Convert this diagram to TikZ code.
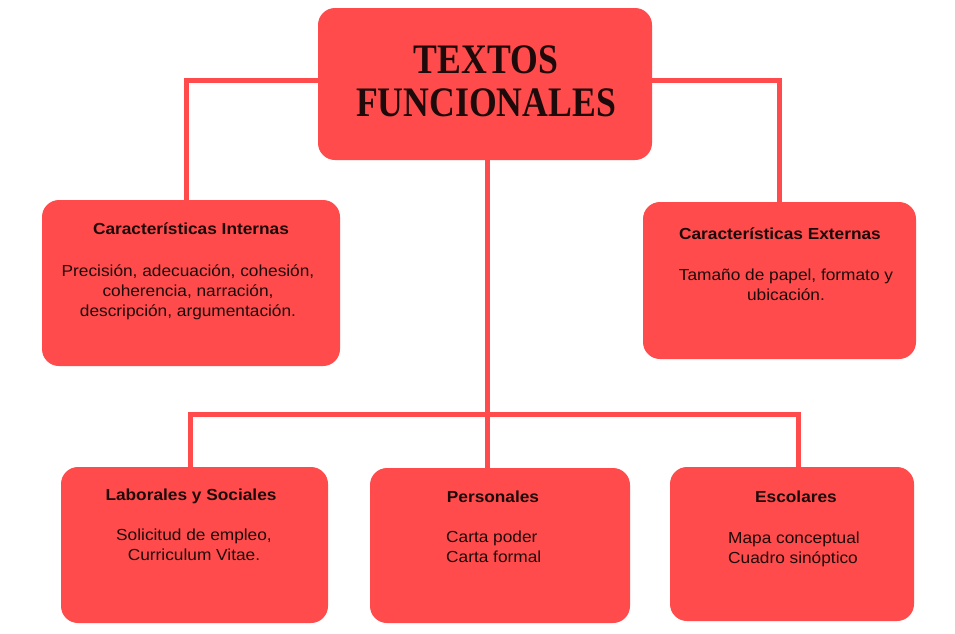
\documentclass[tikz,border=0pt]{standalone}
\usepackage{fontspec}
\setmainfont{Liberation Sans}[FakeStretch=1.08]
\newfontfamily\titlefont{Liberation Serif}[FakeStretch=0.85]
\definecolor{boxred}{RGB}{255,75,75}
\definecolor{textdark}{RGB}{30,10,10}
\tikzset{
  box/.style={rectangle, rounded corners=17pt, fill=boxred, draw=none, inner sep=0pt},
  conn/.style={draw=boxred, line width=5pt, line join=miter},
  head/.style={anchor=base, inner sep=0pt, text=textdark, font=\bfseries\fontsize{16}{20}\selectfont},
  bodyc/.style={anchor=north, inner sep=0pt, align=center, text=textdark, font=\fontsize{16}{20}\selectfont},
  bodyl/.style={anchor=north west, inner sep=0pt, align=left, text=textdark, font=\fontsize{16}{20}\selectfont},
}
\begin{document}
\begin{tikzpicture}[x=1pt,y=-1pt]
\fill[white] (0,0) rectangle (955,633);
\useasboundingbox (0,0) rectangle (955,633);

% boxes
\node[box, minimum width=334pt, minimum height=152pt] (title) at (485,84) {};
\node[box, minimum width=298pt, minimum height=166pt] (intern) at (191,283) {};
\node[box, minimum width=273pt, minimum height=157pt] (extern) at (779.5,280.5) {};
\node[box, minimum width=267pt, minimum height=156pt] (lab) at (194.5,545) {};
\node[box, minimum width=260pt, minimum height=155pt] (pers) at (500,545.5) {};
\node[box, minimum width=244pt, minimum height=154pt] (esc) at (792,544) {};

% connectors
\coordinate (bar) at (487,414);
\draw[conn] ([yshift=4pt]title.west) -| ([xshift=-5pt]intern.north);
\draw[conn] ([yshift=4pt]title.east) -| (extern.north);
\draw[conn] (title.south -| bar) -- (pers.north -| bar);
\draw[conn] ([xshift=-4.5pt]lab.north) |- ([xshift=6pt]esc.north |- bar) -- ([xshift=6pt]esc.north);

% title text
\node[anchor=north, inner sep=0pt, align=center, text=textdark,
      font=\titlefont\bfseries\fontsize{42}{43}\selectfont] (titletext) at (486,42.9)
  {\strut TEXTOS\\FUNCIONALES};

% Características Internas
\node[head] (internh) at (191,234.3) {Características Internas};
\node[bodyc] (internb) at (188,262) {\strut Precisión, adecuación, cohesión,\\coherencia, narración,\\descripción, argumentación.};

% Características Externas
\node[head] (externh) at (780,239.3) {Características Externas};
\node[bodyc] (externb) at (786,266) {\strut Tamaño de papel, formato y\\ubicación.};

% Laborales y Sociales
\node[head] (labh) at (191,500) {Laborales y Sociales};
\node[bodyc] (labb) at (194,526.7) {\strut Solicitud de empleo,\\Curriculum Vitae.};

% Personales
\node[head] (persh) at (493,502) {Personales};
\node[bodyl] (persb) at (446,528.5) {\strut Carta poder\\Carta formal};

% Escolares
\node[head] (esch) at (796,502.3) {Escolares};
\node[bodyl] (escb) at (728,529.3) {\strut Mapa conceptual\\Cuadro sinóptico};
\end{tikzpicture}
\end{document}
